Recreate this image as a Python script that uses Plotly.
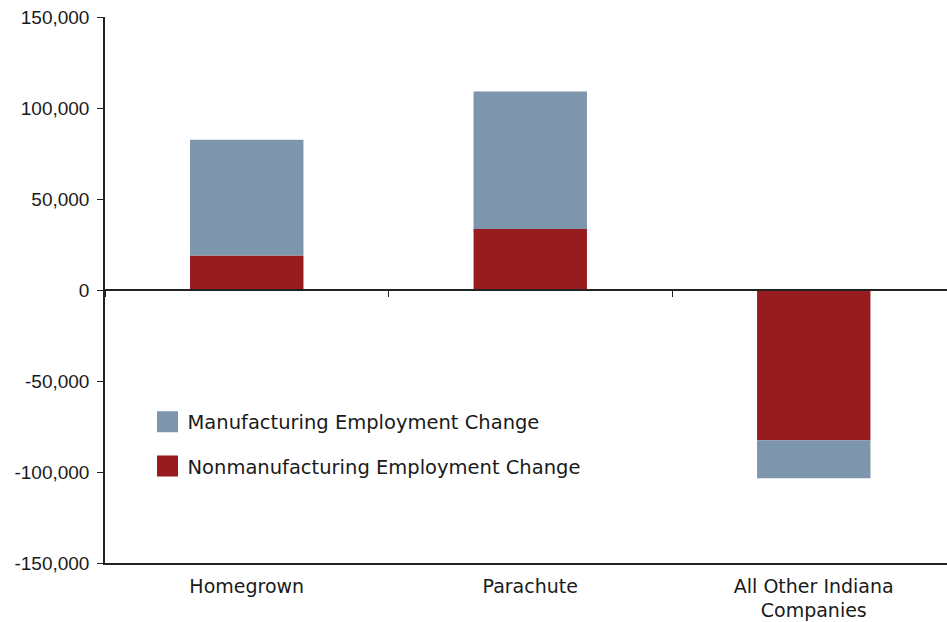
import plotly.graph_objects as go

categories = ["Homegrown", "Parachute", "All Other Indiana<br>Companies"]
nonmanufacturing = [19000, 33500, -82500]
manufacturing = [63500, 75500, -21000]
y_ticks = [-150000, -100000, -50000, 0, 50000, 100000, 150000]
y_tick_labels = [f"{v:,}" for v in y_ticks]

blue = "#7d96ae"
red = "#971b1f"
axis_color = "#222222"
num_font = "Liberation Sans, Arial, sans-serif"
txt_font = "DejaVu Sans, Verdana, sans-serif"

fig = go.Figure()
fig.add_trace(go.Bar(x=categories, y=nonmanufacturing, marker=dict(color=red, line=dict(width=0)),
                     width=0.4, showlegend=False, name="Nonmanufacturing Employment Change"))
fig.add_trace(go.Bar(x=categories, y=manufacturing, marker=dict(color=blue, line=dict(width=0)),
                     width=0.4, showlegend=False, name="Manufacturing Employment Change"))
# legend entries
fig.add_trace(go.Scatter(x=[None], y=[None], mode="markers", name="Manufacturing Employment Change",
                         marker=dict(symbol="square", size=16, color=blue, line=dict(color=blue, width=5)),
                         legendgroup="a"))
fig.add_trace(go.Scatter(x=[None], y=[None], mode="markers", name="Nonmanufacturing Employment Change",
                         marker=dict(symbol="square", size=16, color=red, line=dict(color=red, width=5)),
                         legendgroup="b"))

fig.update_layout(
    width=947, height=622,
    barmode="relative",
    plot_bgcolor="white", paper_bgcolor="white",
    margin=dict(l=105, r=0, t=17, b=59),
    font=dict(family=num_font, size=19, color="#1a1a1a"),
    legend=dict(x=0.0505, y=0.294, xanchor="left", yanchor="top",
                bgcolor="rgba(0,0,0,0)", font=dict(family=txt_font, size=19.5),
                traceorder="grouped", tracegroupgap=16, itemsizing="trace"),
    xaxis=dict(type="category", categoryarray=categories, range=[-0.5, 2.47],
               showline=True, linecolor=axis_color, linewidth=1.5, ticks="",
               tickfont=dict(family=txt_font, size=19),
               showgrid=False, zeroline=False, ticklabelstandoff=5, automargin=False),
    xaxis2=dict(type="category", matches="x", overlaying="x", anchor="free", position=0.5,
                side="bottom", showline=True, linecolor=axis_color, linewidth=1.5,
                ticks="outside", tickson="boundaries", ticklen=6, tickcolor=axis_color,
                showticklabels=False, showgrid=False, zeroline=False),
    yaxis=dict(range=[-150000, 150000], tickvals=y_ticks, ticktext=y_tick_labels,
               showline=True, linecolor=axis_color, linewidth=1.5, ticks="outside",
               ticklen=6, tickcolor=axis_color, ticklabelstandoff=4,
               showgrid=False, zeroline=False, automargin=False),
)
fig.add_trace(go.Scatter(x=categories, y=[None, None, None], xaxis="x2", mode="markers",
                         showlegend=False, hoverinfo="skip"))

fig.write_html("out.html", config={"displayModeBar": False},
               post_script="document.body.style.margin='0';document.body.style.overflow='hidden';")
